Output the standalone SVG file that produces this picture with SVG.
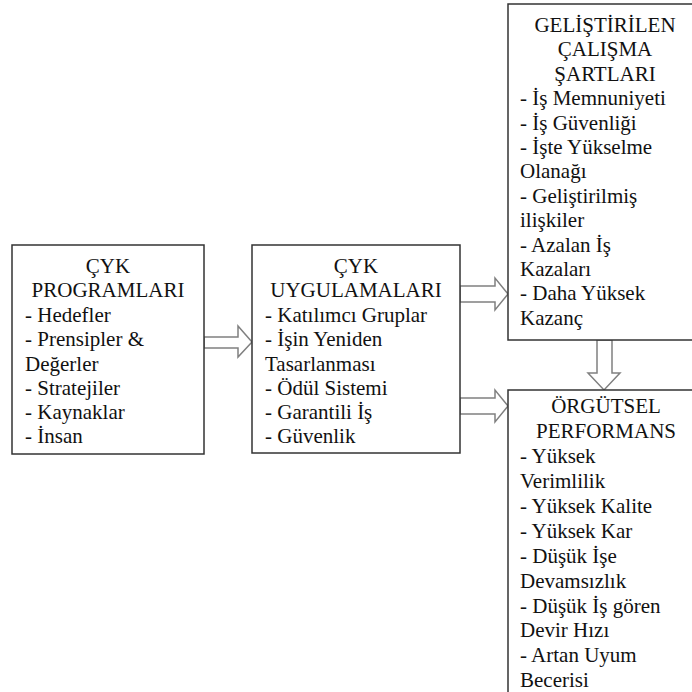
<svg xmlns="http://www.w3.org/2000/svg" width="692" height="692" viewBox="0 0 692 692">
  <style>
    .box { fill: #ffffff; stroke: #333333; stroke-width: 1.5; }
    .arrow { fill: #ffffff; stroke: #808080; stroke-width: 1.5; stroke-linejoin: miter; }
    text { font-family: "Liberation Serif", "Noto Serif", "DejaVu Serif", FreeSerif, "Nimbus Roman", Times, Georgia, serif; font-size: 21px; fill: #111111; }
    .c { text-anchor: middle; }
  </style>
  <rect width="692" height="692" fill="#ffffff"/>

  <!-- block arrows -->
  <g id="connectors">
    <polygon class="arrow" points="204,337 238,337 238,326 252,342 238,357 238,348 204,348"/>
    <polygon class="arrow" points="460,286 495,286 495,278 508,294 495,310 495,302 460,302"/>
    <polygon class="arrow" points="460,398 495,398 495,390 508,406 495,422 495,414 460,414"/>
    <polygon class="arrow" points="597,340 612,340 612,373 620,373 604,390 588,373 597,373"/>
  </g>

  <g id="cyk-programlari">
    <rect class="box" x="12" y="245" width="192" height="209"/>
    <text class="c" x="108" y="273">ÇYK</text>
    <text class="c" x="108" y="297">PROGRAMLARI</text>
    <text x="25" y="322">- Hedefler</text>
    <text x="25" y="346">- Prensipler &amp;</text>
    <text x="25" y="371">Değerler</text>
    <text x="25" y="395">- Stratejiler</text>
    <text x="25" y="419">- Kaynaklar</text>
    <text x="25" y="443">- İnsan</text>
  </g>

  <g id="cyk-uygulamalari">
    <rect class="box" x="252" y="245" width="208" height="208"/>
    <text class="c" x="356" y="273">ÇYK</text>
    <text class="c" x="356" y="297">UYGULAMALARI</text>
    <text x="265" y="322">- Katılımcı Gruplar</text>
    <text x="265" y="346">- İşin Yeniden</text>
    <text x="265" y="371">Tasarlanması</text>
    <text x="265" y="395">- Ödül Sistemi</text>
    <text x="265" y="419">- Garantili İş</text>
    <text x="265" y="443">- Güvenlik</text>
  </g>

  <g id="calisma-sartlari">
    <rect class="box" x="508" y="4" width="196" height="336"/>
    <text class="c" x="605" y="32">GELİŞTİRİLEN</text>
    <text class="c" x="605" y="56">ÇALIŞMA</text>
    <text class="c" x="605" y="81">ŞARTLARI</text>
    <text x="520" y="105">- İş Memnuniyeti</text>
    <text x="520" y="130">- İş Güvenliği</text>
    <text x="520" y="154">- İşte Yükselme</text>
    <text x="520" y="178">Olanağı</text>
    <text x="520" y="203">- Geliştirilmiş</text>
    <text x="520" y="227">ilişkiler</text>
    <text x="520" y="252">- Azalan İş</text>
    <text x="520" y="276">Kazaları</text>
    <text x="520" y="300">- Daha Yüksek</text>
    <text x="520" y="325">Kazanç</text>
  </g>

  <g id="orgutsel-performans">
    <rect class="box" x="508" y="390" width="196" height="320"/>
    <text class="c" x="606" y="413">ÖRGÜTSEL</text>
    <text class="c" x="606" y="438">PERFORMANS</text>
    <text x="520" y="463">- Yüksek</text>
    <text x="520" y="488">Verimlilik</text>
    <text x="520" y="513">- Yüksek Kalite</text>
    <text x="520" y="538">- Yüksek Kar</text>
    <text x="520" y="563">- Düşük İşe</text>
    <text x="520" y="588">Devamsızlık</text>
    <text x="520" y="613">- Düşük İş gören</text>
    <text x="520" y="637">Devir Hızı</text>
    <text x="520" y="662">- Artan Uyum</text>
    <text x="520" y="687">Becerisi</text>
  </g>
</svg>
